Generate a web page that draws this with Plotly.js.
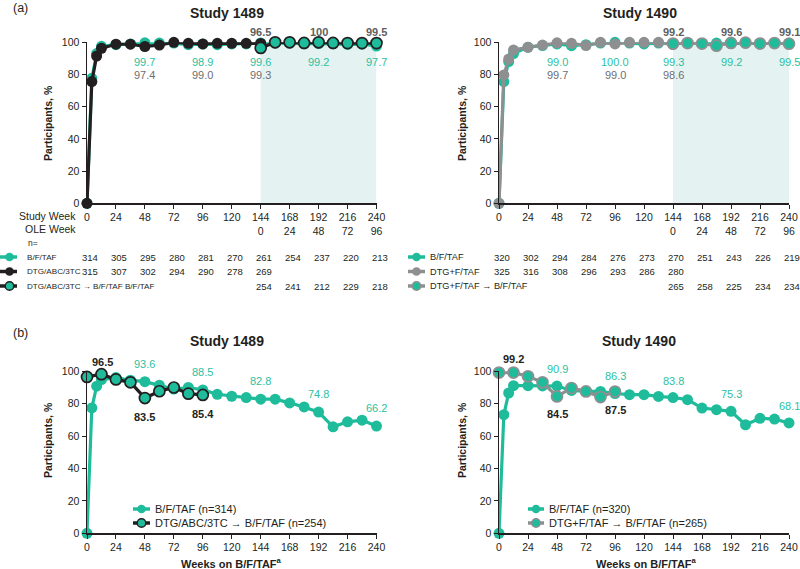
<!DOCTYPE html>
<html><head><meta charset="utf-8">
<script src="https://cdn.plot.ly/plotly-3.0.1.min.js"></script>
<style>html,body{margin:0;padding:0;background:#fff}#chart{width:800px;height:569px}</style>
</head><body><div id="chart"></div>
<script>
// ---------- DATA ----------
const weeksAll = [0,4,8,12,24,36,48,60,72,84,96,108,120,132,144,156,168,180,192,204,216,228,240];
const weeksRand = [0,4,8,12,24,36,48,60,72,84,96,108,120,132,144];
const weeksOLE = [144,156,168,180,192,204,216,228,240];
const weeksSwitch = [0,12,24,36,48,60,72,84,96];
const tableWeeks = [0,24,48,72,96,120,144,168,192,216,240];
const studyWeekLabels = ["0","24","48","72","96","120","144","168","192","216","240"];
const oleWeekLabels = ["","","","","","","0","24","48","72","96"];
const yTicks = [0,20,40,60,80,100];

// (a) Study 1489
const a1489_bft = [0,77.6,93,97.5,98.5,99,99.7,99.5,99.5,98.5,98.9,98.5,99,99,99.6,99.5,99.5,99,99.2,99,98.7,98.8,97.7];
const a1489_dtg = [0,75.6,91.5,96.3,98.8,98.8,97.4,98.3,100,99.4,99.0,99.4,99.4,99.4,99.3];
const a1489_sw  = [96.5,100,100,99.6,100,99.6,99.5,99.5,99.5];
// (a) Study 1490
const a1490_bft = [0,75.6,88,93,97,98,99.0,97.9,98.5,99.5,100.0,99.5,99,99.5,99.3,99.3,99.3,99.5,99.2,99.5,99.3,99.3,99.5];
const a1490_dtg = [0,79.7,89.6,95.2,96.9,98.3,99.7,99.4,98,100,99.0,100,100,100,98.6];
const a1490_sw  = [99.2,99.5,99.2,97.9,99.6,99.8,99.2,99.5,99.1];
// (b) Study 1489
const b1489_bft = [0,77.4,90.8,94.9,96.1,94.5,93.6,91.4,89,90,88.5,85.8,84.6,83.8,82.8,82.8,80.5,78,74.8,65.7,68.8,69.8,66.2];
const b1489_sw  = [96.5,98.2,95,93.2,83.5,87.7,90,86.2,85.4];
// (b) Study 1490
const b1490_bft = [0,73.2,86.6,91.1,91.1,91,90.9,88.2,87.6,87.6,86.3,85.6,85.6,84.5,83.8,82.5,77.3,76.3,75.3,67,71,70.5,68.1];
const b1490_sw  = [99.2,99.2,96.9,93.2,84.5,89.7,87.6,84.1,87.5];

// n at risk tables
const n1489_bft = [314,305,295,280,281,270,261,254,237,220,213];
const n1489_dtg = [315,307,302,294,290,278,269];
const n1489_sw  = [254,241,212,229,218];
const n1490_bft = [320,302,294,284,276,273,270,251,243,226,219];
const n1490_dtg = [325,316,308,296,293,286,280];
const n1490_sw  = [265,258,225,234,234];

// series names
const names1489 = ["B/F/TAF","DTG/ABC/3TC","DTG/ABC/3TC \u2192 B/F/TAF B/F/TAF"];
const names1490 = ["B/F/TAF","DTG+F/TAF","DTG+F/TAF \u2192 B/F/TAF"];

// value labels
const a1489_lblWeeksBft = [48,96,144,192,240], a1489_lblBft = ["99.7","98.9","99.6","99.2","97.7"];
const a1489_lblWeeksDtg = [48,96,144], a1489_lblDtg = ["97.4","99.0","99.3"];
const a1489_lblWeeksSw = [144,192,240], a1489_lblSw = ["96.5","100","99.5"];
const a1490_lblWeeksBft = [48,96,144,192,240], a1490_lblBft = ["99.0","100.0","99.3","99.2","99.5"];
const a1490_lblWeeksDtg = [48,96,144], a1490_lblDtg = ["99.7","99.0","98.6"];
const a1490_lblWeeksSw = [144,192,240], a1490_lblSw = ["99.2","99.6","99.1"];
const b_lblWeeksBft = [48,96,144,192,240];
const b_lblWeeksSw = [0,48,96];

// ---------- STYLE ----------
const FONT = "Liberation Sans, Arial, Helvetica, sans-serif";
const TEAL = "#1fbc9c", TEAL_TXT = "#2dbf9f", BLACK = "#231f20", GRAY = "#8e8f91", GRAY_TXT = "#6d6e71", BOLD_GRAY = "#5e5f61", SHADE = "#e4f3f1";
const W = 800, H = 569;
const px = x => x / W, py = y => 1 - y / H;
const TICK = 10.5, TBL = 9.5;

const find = (weeks, vals, w) => vals[weeks.indexOf(w)];

function tr(x, y, xa, ya, lineColor, fill, outline) {
  return {x, y, xaxis: xa, yaxis: ya, type: 'scatter', mode: 'lines+markers', cliponaxis: false,
    line: {color: lineColor, width: 3.2},
    marker: {color: fill, size: 11, line: {color: outline || fill, width: outline ? 1.7 : 0}},
    hoverinfo: 'x+y'};
}

const traces = [
  tr(weeksAll, a1489_bft, 'x', 'y', TEAL, TEAL),
  tr(weeksRand, a1489_dtg, 'x', 'y', BLACK, BLACK),
  tr(weeksOLE, a1489_sw, 'x', 'y', BLACK, TEAL, BLACK),
  tr(weeksAll, a1490_bft, 'x2', 'y2', TEAL, TEAL),
  tr(weeksRand, a1490_dtg, 'x2', 'y2', GRAY, GRAY),
  tr(weeksOLE, a1490_sw, 'x2', 'y2', GRAY, TEAL, GRAY),
  tr(weeksAll, b1489_bft, 'x3', 'y3', TEAL, TEAL),
  tr(weeksSwitch, b1489_sw, 'x3', 'y3', BLACK, TEAL, BLACK),
  tr(weeksAll, b1490_bft, 'x4', 'y4', TEAL, TEAL),
  tr(weeksSwitch, b1490_sw, 'x4', 'y4', GRAY, TEAL, GRAY)
];

const axisBase = {showgrid: false, zeroline: false, showline: true, linecolor: BLACK, linewidth: 1.5,
  ticks: 'outside', ticklen: 4, tickwidth: 1, tickcolor: BLACK, fixedrange: true,
  tickfont: {family: FONT, size: TICK, color: BLACK}};
const topTickText = studyWeekLabels.map((s, i) => oleWeekLabels[i] ? s + '<br>' + oleWeekLabels[i] : s);

const xL = [px(87), px(376.5)], xR = [px(499), px(789)];
const yT = [py(203.3), py(42.3)], yB = [py(533.3), py(371.3)];

const layout = {
  width: W, height: H, margin: {l: 0, r: 0, t: 0, b: 0},
  paper_bgcolor: '#ffffff', plot_bgcolor: 'rgba(0,0,0,0)', showlegend: false,
  font: {family: FONT, size: 11, color: BLACK},
  xaxis:  Object.assign({}, axisBase, {domain: xL, range: [0, 240], anchor: 'y',  tickvals: tableWeeks, ticktext: topTickText}),
  yaxis:  Object.assign({}, axisBase, {domain: yT, range: [0, 100], anchor: 'x',  tickvals: yTicks}),
  xaxis2: Object.assign({}, axisBase, {domain: xR, range: [0, 240], anchor: 'y2', tickvals: tableWeeks, ticktext: topTickText}),
  yaxis2: Object.assign({}, axisBase, {domain: yT, range: [0, 100], anchor: 'x2', tickvals: yTicks}),
  xaxis3: Object.assign({}, axisBase, {domain: xL, range: [0, 240], anchor: 'y3', tickvals: tableWeeks, ticktext: studyWeekLabels}),
  yaxis3: Object.assign({}, axisBase, {domain: yB, range: [0, 100], anchor: 'x3', tickvals: yTicks}),
  xaxis4: Object.assign({}, axisBase, {domain: xR, range: [0, 240], anchor: 'y4', tickvals: tableWeeks, ticktext: studyWeekLabels}),
  yaxis4: Object.assign({}, axisBase, {domain: yB, range: [0, 100], anchor: 'x4', tickvals: yTicks}),
  shapes: [], annotations: []
};

const A = layout.annotations, S = layout.shapes;
function txt(x, y, text, opts) {
  A.push(Object.assign({x, y, text, xref: 'paper', yref: 'paper', showarrow: false,
    xanchor: 'center', yanchor: 'middle', font: {family: FONT, size: 11, color: BLACK}}, opts || {}));
}

// shaded OLE regions
[['x','y'],['x2','y2']].forEach(([xa, ya]) => S.push({type: 'rect', xref: xa, yref: ya,
  x0: weeksOLE[0], x1: weeksOLE[weeksOLE.length - 1], y0: 0, y1: 100,
  fillcolor: SHADE, line: {width: 0}, layer: 'below'}));

// panel letters and titles
txt(px(20), py(8), '(a)', {font: {family: FONT, size: 12.5, color: BLACK}});
txt(px(20), py(333), '(b)', {font: {family: FONT, size: 12.5, color: BLACK}});
[[227, 13], [640, 13], [227, 340.7], [639, 340.7]].forEach((p, i) =>
  txt(px(p[0]), py(p[1]), '<b>' + (i % 2 ? 'Study 1490' : 'Study 1489') + '</b>', {font: {family: FONT, size: 14, color: BLACK}}));
// y axis titles
[[48, 123], [462, 123], [48, 440], [462, 440]].forEach(p =>
  txt(px(p[0]), py(p[1]), '<b>Participants, %</b>', {textangle: -90, font: {family: FONT, size: 10.5, color: BLACK}}));
// x axis titles (bottom)
[[231, 562.5], [646, 562.5]].forEach(p =>
  txt(px(p[0]), py(p[1]), '<b>Weeks on B/F/TAF<sup>a</sup></b>', {font: {family: FONT, size: 11, color: BLACK}}));

// top label rows
function rowLabels(xref, weeks, texts, yPix, color, bold) {
  weeks.forEach((w, i) => A.push({x: w, y: py(yPix), xref, yref: 'paper', showarrow: false,
    xanchor: 'center', yanchor: 'middle', text: bold ? '<b>' + texts[i] + '</b>' : texts[i],
    font: {family: FONT, size: 11, color}}));
}
rowLabels('x', a1489_lblWeeksSw, a1489_lblSw, 32, BOLD_GRAY, true);
rowLabels('x', a1489_lblWeeksBft, a1489_lblBft, 62, TEAL_TXT);
rowLabels('x', a1489_lblWeeksDtg, a1489_lblDtg, 75, GRAY_TXT);
rowLabels('x2', a1490_lblWeeksSw, a1490_lblSw, 32, BOLD_GRAY, true);
rowLabels('x2', a1490_lblWeeksBft, a1490_lblBft, 62, TEAL_TXT);
rowLabels('x2', a1490_lblWeeksDtg, a1490_lblDtg, 75, GRAY_TXT);

// bottom point labels
function ptLabels(xref, yref, weeks, series, lblWeeks, color, bold, yshift, xshiftFirst) {
  lblWeeks.forEach((w, i) => {
    const v = find(weeks, series, w);
    A.push({x: w, y: v, xref, yref, showarrow: false, xanchor: 'center', yanchor: 'middle',
      yshift: typeof yshift === 'function' ? yshift(w) : yshift,
      xshift: (w === 0 && xshiftFirst) ? xshiftFirst : 0,
      text: bold ? '<b>' + v.toFixed(1) + '</b>' : v.toFixed(1),
      font: {family: FONT, size: 11, color}});
  });
}
ptLabels('x3', 'y3', weeksAll, b1489_bft, b_lblWeeksBft, TEAL_TXT, false, 18);
ptLabels('x3', 'y3', weeksSwitch, b1489_sw, b_lblWeeksSw, BLACK, true, w => w === 0 ? 15 : -19, 15);
ptLabels('x4', 'y4', weeksAll, b1490_bft, b_lblWeeksBft, TEAL_TXT, false, 17);
ptLabels('x4', 'y4', weeksSwitch, b1490_sw, b_lblWeeksSw, BLACK, true, w => w === 0 ? 14 : -18, 14);

// legend symbol helper
function sym(x0, x1, cx, y, lineColor, fill, outline) {
  S.push({type: 'line', xref: 'paper', yref: 'paper', x0: px(x0), x1: px(x1), y0: py(y), y1: py(y),
    line: {color: lineColor, width: 3.5}});
  const r = 4.3;
  S.push({type: 'circle', xref: 'paper', yref: 'paper', x0: px(cx - r), x1: px(cx + r), y0: py(y + r), y1: py(y - r),
    fillcolor: fill, line: {color: outline || fill, width: outline ? 1.5 : 0}});
}

// top tables
txt(px(78), py(216), 'Study Week', {xanchor: 'right', font: {family: FONT, size: TICK, color: BLACK}});
txt(px(78), py(229.5), 'OLE Week', {xanchor: 'right', font: {family: FONT, size: TICK, color: BLACK}});
txt(px(26), py(243), 'n=', {xanchor: 'left', font: {family: FONT, size: 8.5, color: BLACK}});
const rowsY = [257, 271.5, 286];
function table(xref, names, nb, nd, ns, symX, textX, ctrl, nameSize) {
  sym(symX[0], symX[1], symX[2], rowsY[0], TEAL, TEAL);
  sym(symX[0], symX[1], symX[2], rowsY[1], ctrl, ctrl);
  sym(symX[0], symX[1], symX[2], rowsY[2], ctrl, TEAL, ctrl);
  names.forEach((n, i) => txt(px(textX), py(rowsY[i]), n, {xanchor: 'left', font: {family: FONT, size: nameSize, color: BLACK}}));
  const put = (arr, weeks, row) => arr.forEach((v, i) => A.push({x: weeks[i], y: py(rowsY[row]), xref, yref: 'paper',
    showarrow: false, xanchor: 'center', yanchor: 'middle', xshift: 3, text: String(v), font: {family: FONT, size: TBL, color: BLACK}}));
  put(nb, tableWeeks, 0);
  put(nd, tableWeeks.slice(0, nd.length), 1);
  put(ns, tableWeeks.slice(tableWeeks.length - ns.length), 2);
}
table('x', names1489, n1489_bft, n1489_dtg, n1489_sw, [0, 17, 9.5], 24.5, BLACK, 8.1);
table('x2', names1490, n1490_bft, n1490_dtg, n1490_sw, [408, 425, 416.5], 427.5, GRAY, 9.2);

// bottom legends
function legend(symX, textX, rows, ctrl) {
  sym(symX[0], symX[1], symX[2], rows[0][0], TEAL, TEAL);
  sym(symX[0], symX[1], symX[2], rows[1][0], ctrl, TEAL, ctrl);
  rows.forEach(r => txt(px(textX), py(r[0]), r[1], {xanchor: 'left', font: {family: FONT, size: 11, color: BLACK}}));
}
legend([133, 150, 141.5], 153, [[509, names1489[0] + ' (n=' + n1489_bft[0] + ')'], [523, 'DTG/ABC/3TC \u2192 B/F/TAF (n=' + n1489_sw[0] + ')']], BLACK);
legend([528, 544, 536], 547, [[509, names1490[0] + ' (n=' + n1490_bft[0] + ')'], [523, names1490[2] + ' (n=' + n1490_sw[0] + ')']], GRAY);

Plotly.newPlot('chart', traces, layout, {staticPlot: true, displayModeBar: false});
</script>
</body></html>
